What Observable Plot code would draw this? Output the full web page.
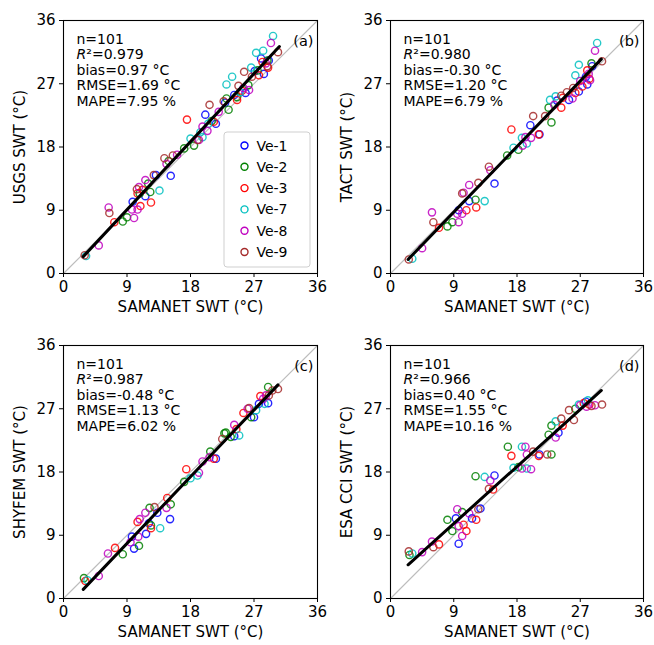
<!DOCTYPE html>
<html><head><meta charset="utf-8">
<script src="https://cdn.jsdelivr.net/npm/d3@7"></script>
<script src="https://cdn.jsdelivr.net/npm/@observablehq/plot@0.6"></script>
<style>
body{margin:0;background:#fff;}
#wrap{position:relative;width:654px;height:645px;font-family:"DejaVu Sans",sans-serif;}
#wrap svg{position:absolute;}
</style></head><body><div id="wrap"></div>
<script>
const stations = ["Ve-1","Ve-2","Ve-3","Ve-7","Ve-8","Ve-9"];
const stationColors = ["#0000ff","#008000","#ff0000","#00bfbf","#bf00bf","#a52a2a"];
const axisTicks = [0, 9, 18, 27, 36];
const axisDomain = [0, 36];
const xLabel = "SAMANET SWT (°C)";
const yLabels = ["USGS SWT (°C)", "TACT SWT (°C)", "SHYFEM SWT (°C)", "ESA CCI SWT (°C)"];
const panelTags = ["(a)", "(b)", "(c)", "(d)"];
const nObs = [101, 101, 101, 101];
const r2 = ["0.979", "0.980", "0.987", "0.966"];
const bias = ["0.97", "-0.30", "-0.48", "0.40"];
const rmse = ["1.69", "1.20", "1.13", "1.55"];
const mape = ["7.95", "6.79", "6.02", "10.16"];

// regression line end points
const fitA = [[2.8, 2.4], [30.6, 32.3]];
const fitB = [[2.5, 2.0], [30.0, 30.5]];
const fitC = [[2.8, 1.3], [30.4, 30.4]];
const fitD = [[2.5, 4.8], [30.0, 29.6]];

// [SAMANET, product, station]
const ptsA = [
 [20.1,22.6,"Ve-1"],[21.6,21.3,"Ve-1"],[11.6,11.0,"Ve-1"],[13.1,14.0,"Ve-1"],[15.2,13.9,"Ve-1"],[24.2,25.4,"Ve-1"],[25.8,25.7,"Ve-1"],[28.0,30.6,"Ve-1"],[28.4,28.4,"Ve-1"],[29.1,30.3,"Ve-1"],[9.8,10.2,"Ve-1"],[22.9,24.3,"Ve-1"],[27.1,28.8,"Ve-1"],
 [8.4,7.4,"Ve-2"],[9.0,8.0,"Ve-2"],[12.3,11.6,"Ve-2"],[12.0,12.8,"Ve-2"],[14.9,16.0,"Ve-2"],[17.1,17.8,"Ve-2"],[18.5,18.2,"Ve-2"],[23.1,24.9,"Ve-2"],[23.4,23.3,"Ve-2"],[24.6,25.1,"Ve-2"],[26.2,26.8,"Ve-2"],[28.9,30.3,"Ve-2"],[10.8,11.4,"Ve-2"],[21.0,21.7,"Ve-2"],[27.5,28.9,"Ve-2"],
 [7.2,7.3,"Ve-3"],[10.9,9.6,"Ve-3"],[12.4,10.1,"Ve-3"],[10.5,11.4,"Ve-3"],[17.5,21.9,"Ve-3"],[21.3,21.6,"Ve-3"],[24.6,24.7,"Ve-3"],[27.7,28.2,"Ve-3"],[28.2,30.1,"Ve-3"],[11.2,11.9,"Ve-3"],[25.3,26.0,"Ve-3"],[29.0,29.3,"Ve-3"],
 [3.2,2.5,"Ve-7"],[13.6,11.8,"Ve-7"],[18.0,19.2,"Ve-7"],[19.4,20.1,"Ve-7"],[19.7,19.4,"Ve-7"],[23.1,26.9,"Ve-7"],[23.9,28.0,"Ve-7"],[26.6,29.3,"Ve-7"],[27.3,31.4,"Ve-7"],[28.3,31.7,"Ve-7"],[29.7,33.8,"Ve-7"],[20.5,21.3,"Ve-7"],[25.0,25.8,"Ve-7"],
 [5.0,4.0,"Ve-8"],[6.4,9.4,"Ve-8"],[10.0,7.9,"Ve-8"],[9.7,9.1,"Ve-8"],[10.5,9.1,"Ve-8"],[10.7,12.3,"Ve-8"],[11.6,13.3,"Ve-8"],[14.6,15.6,"Ve-8"],[19.2,19.0,"Ve-8"],[19.7,20.9,"Ve-8"],[20.4,20.3,"Ve-8"],[25.5,26.4,"Ve-8"],[26.3,26.1,"Ve-8"],[28.7,29.9,"Ve-8"],[29.4,32.8,"Ve-8"],[16.1,16.9,"Ve-8"],[22.0,23.0,"Ve-8"],
 [3.0,2.6,"Ve-9"],[6.5,8.6,"Ve-9"],[10.4,12.0,"Ve-9"],[12.8,14.0,"Ve-9"],[14.3,16.4,"Ve-9"],[19.0,19.0,"Ve-9"],[20.7,24.0,"Ve-9"],[22.7,24.5,"Ve-9"],[24.8,26.7,"Ve-9"],[25.6,28.7,"Ve-9"],[28.9,29.5,"Ve-9"],[30.4,31.5,"Ve-9"],[15.5,16.8,"Ve-9"],[26.7,28.0,"Ve-9"]
];
const ptsB = [
 [9.7,9.0,"Ve-1"],[11.2,10.3,"Ve-1"],[14.8,12.8,"Ve-1"],[19.9,21.1,"Ve-1"],[21.2,19.8,"Ve-1"],[23.7,24.6,"Ve-1"],[25.4,24.7,"Ve-1"],[26.8,25.9,"Ve-1"],[28.0,26.9,"Ve-1"],[27.8,28.0,"Ve-1"],[28.7,29.5,"Ve-1"],
 [8.1,6.7,"Ve-2"],[8.8,7.3,"Ve-2"],[12.1,10.5,"Ve-2"],[16.6,16.8,"Ve-2"],[18.2,17.6,"Ve-2"],[22.5,23.6,"Ve-2"],[22.9,21.5,"Ve-2"],[28.6,29.9,"Ve-2"],
 [6.9,6.5,"Ve-3"],[10.8,9.0,"Ve-3"],[12.2,9.4,"Ve-3"],[17.2,20.5,"Ve-3"],[21.1,19.8,"Ve-3"],[24.3,23.6,"Ve-3"],[24.5,25.0,"Ve-3"],[26.3,25.7,"Ve-3"],[27.3,26.6,"Ve-3"],[28.0,28.9,"Ve-3"],[28.3,27.7,"Ve-3"],
 [3.1,2.1,"Ve-7"],[13.4,10.3,"Ve-7"],[17.5,17.9,"Ve-7"],[18.7,19.3,"Ve-7"],[19.4,18.5,"Ve-7"],[22.7,24.7,"Ve-7"],[23.5,25.2,"Ve-7"],[26.3,28.2,"Ve-7"],[26.8,29.7,"Ve-7"],[29.4,32.8,"Ve-7"],
 [4.5,3.6,"Ve-8"],[5.9,8.7,"Ve-8"],[9.7,7.3,"Ve-8"],[9.5,8.5,"Ve-8"],[10.2,8.5,"Ve-8"],[10.4,11.5,"Ve-8"],[11.2,12.6,"Ve-8"],[14.2,14.7,"Ve-8"],[18.8,18.2,"Ve-8"],[19.2,19.4,"Ve-8"],[20.0,19.3,"Ve-8"],[23.3,24.0,"Ve-8"],[25.9,24.9,"Ve-8"],[27.0,27.4,"Ve-8"],[28.2,28.4,"Ve-8"],[28.4,27.5,"Ve-8"],[29.1,31.7,"Ve-8"],
 [2.6,2.0,"Ve-9"],[6.1,7.3,"Ve-9"],[10.2,11.4,"Ve-9"],[12.5,12.9,"Ve-9"],[14.0,15.2,"Ve-9"],[20.3,22.4,"Ve-9"],[22.0,22.4,"Ve-9"],[24.3,25.3,"Ve-9"],[25.1,25.8,"Ve-9"],[26.0,26.4,"Ve-9"],[30.1,30.2,"Ve-9"]
];
const ptsC = [
 [9.7,8.8,"Ve-1"],[10.0,7.1,"Ve-1"],[11.7,9.2,"Ve-1"],[12.1,10.7,"Ve-1"],[13.3,12.2,"Ve-1"],[15.1,11.3,"Ve-1"],[21.6,19.9,"Ve-1"],[24.2,23.1,"Ve-1"],[27.0,25.8,"Ve-1"],[27.7,27.7,"Ve-1"],[29.0,27.8,"Ve-1"],
 [2.9,2.9,"Ve-2"],[8.4,6.3,"Ve-2"],[10.7,7.5,"Ve-2"],[12.2,12.9,"Ve-2"],[12.4,10.4,"Ve-2"],[15.2,13.4,"Ve-2"],[17.1,16.6,"Ve-2"],[20.8,20.9,"Ve-2"],[22.8,23.5,"Ve-2"],[23.0,23.6,"Ve-2"],[23.7,23.0,"Ve-2"],[26.6,25.8,"Ve-2"],[29.0,30.1,"Ve-2"],
 [3.1,2.5,"Ve-3"],[7.3,7.2,"Ve-3"],[10.5,10.9,"Ve-3"],[12.4,10.0,"Ve-3"],[14.7,14.3,"Ve-3"],[17.4,18.4,"Ve-3"],[21.3,19.9,"Ve-3"],[24.5,24.1,"Ve-3"],[25.5,26.4,"Ve-3"],[27.9,28.8,"Ve-3"],
 [3.4,2.6,"Ve-7"],[13.7,10.0,"Ve-7"],[18.0,17.1,"Ve-7"],[19.0,17.5,"Ve-7"],[24.9,23.2,"Ve-7"],[27.3,26.8,"Ve-7"],[28.5,27.7,"Ve-7"],
 [5.0,3.2,"Ve-8"],[6.3,6.4,"Ve-8"],[9.5,8.0,"Ve-8"],[10.6,8.8,"Ve-8"],[10.8,11.3,"Ve-8"],[11.6,12.2,"Ve-8"],[14.6,12.9,"Ve-8"],[19.2,17.9,"Ve-8"],[19.7,19.5,"Ve-8"],[20.7,20.1,"Ve-8"],[24.2,24.7,"Ve-8"],[26.1,27.0,"Ve-8"],[28.7,28.9,"Ve-8"],[28.3,28.4,"Ve-8"],
 [12.9,13.0,"Ve-9"],[22.5,22.7,"Ve-9"],[26.3,27.1,"Ve-9"],[29.1,28.9,"Ve-9"],[29.6,29.6,"Ve-9"],[30.4,29.8,"Ve-9"]
];
const ptsD = [
 [9.7,7.8,"Ve-1"],[9.3,11.4,"Ve-1"],[11.6,11.4,"Ve-1"],[12.8,12.8,"Ve-1"],[14.8,17.5,"Ve-1"],[21.2,20.5,"Ve-1"],[23.9,23.6,"Ve-1"],[27.8,28.0,"Ve-1"],
 [2.7,6.2,"Ve-2"],[8.1,11.2,"Ve-2"],[8.8,9.6,"Ve-2"],[10.2,12.3,"Ve-2"],[12.1,17.4,"Ve-2"],[16.7,21.6,"Ve-2"],[18.2,18.7,"Ve-2"],[22.9,20.5,"Ve-2"],[22.5,23.3,"Ve-2"],[22.9,24.6,"Ve-2"],[26.3,27.0,"Ve-2"],
 [6.9,7.7,"Ve-3"],[10.8,9.6,"Ve-3"],[10.4,10.5,"Ve-3"],[12.2,11.2,"Ve-3"],[14.6,15.5,"Ve-3"],[17.2,20.3,"Ve-3"],[21.1,20.3,"Ve-3"],[24.5,24.6,"Ve-3"],[27.5,27.8,"Ve-3"],[28.3,27.6,"Ve-3"],
 [3.1,6.4,"Ve-7"],[13.4,17.3,"Ve-7"],[17.5,18.6,"Ve-7"],[18.7,21.6,"Ve-7"],[19.4,18.5,"Ve-7"],[23.5,25.2,"Ve-7"],[26.8,27.6,"Ve-7"],[28.1,28.2,"Ve-7"],
 [4.5,6.6,"Ve-8"],[5.9,8.1,"Ve-8"],[9.5,12.7,"Ve-8"],[9.7,10.3,"Ve-8"],[10.2,8.9,"Ve-8"],[11.2,12.1,"Ve-8"],[14.2,16.8,"Ve-8"],[19.2,21.6,"Ve-8"],[18.7,18.5,"Ve-8"],[20.0,18.4,"Ve-8"],[19.4,20.5,"Ve-8"],[23.5,22.9,"Ve-8"],[27.0,27.5,"Ve-8"],[29.1,27.5,"Ve-8"],[27.9,27.3,"Ve-8"],
 [2.6,6.7,"Ve-9"],[6.1,7.3,"Ve-9"],[12.5,12.7,"Ve-9"],[14.0,15.6,"Ve-9"],[20.3,20.9,"Ve-9"],[22.3,20.5,"Ve-9"],[24.3,25.6,"Ve-9"],[25.4,26.8,"Ve-9"],[26.1,25.4,"Ve-9"],[28.6,27.4,"Ve-9"],[30.1,27.6,"Ve-9"]
];

const panels = [
  {pts: ptsA, fit: fitA, left: 0, top: 0, h: 322, mr: 10, mb: 49},
  {pts: ptsB, fit: fitB, left: 327, top: 0, h: 322, mr: 11, mb: 49},
  {pts: ptsC, fit: fitC, left: 0, top: 325, h: 320, mr: 10, mb: 47},
  {pts: ptsD, fit: fitD, left: 327, top: 325, h: 320, mr: 11, mb: 47}
];

const wrap = document.getElementById("wrap");
const lineH = 15.4, top0 = 13.6, left0 = 13;

panels.forEach((pn, i) => {
  const statLines = [
    "n=" + nObs[i],
    null,
    "bias=" + bias[i] + " °C",
    "RMSE=" + rmse[i] + " °C",
    "MAPE=" + mape[i] + " %"
  ];
  const statMarks = [];
  statLines.forEach((t, j) => {
    if (t === null) {
      statMarks.push(Plot.text(["R"], {text: d => d, frameAnchor: "top-left", dx: left0, dy: top0 + j * lineH, fontSize: 14, fontStyle: "italic"}));
      statMarks.push(Plot.text(["²=" + r2[i]], {text: d => d, frameAnchor: "top-left", dx: left0 + 9.8, dy: top0 + j * lineH, fontSize: 14}));
    } else {
      statMarks.push(Plot.text([t], {text: d => d, frameAnchor: "top-left", dx: left0, dy: top0 + j * lineH, fontSize: 14}));
    }
  });
  const svg = Plot.plot({
    width: 327, height: pn.h,
    marginLeft: 63, marginRight: pn.mr, marginTop: 20, marginBottom: pn.mb,
    style: {fontFamily: "DejaVu Sans", fontSize: "14px", color: "black", background: "white"},
    x: {domain: axisDomain},
    y: {domain: axisDomain},
    color: {domain: stations, range: stationColors},
    marks: [
      Plot.line(axisDomain, {x: d => d, y: d => d, stroke: "#bdbdbd", strokeWidth: 1.2}),
      Plot.dot(pn.pts, {x: d => d[0], y: d => d[1], stroke: d => d[2], r: 3.6, strokeWidth: 1.4, fill: "none", strokeOpacity: 0.85}),
      Plot.line(pn.fit, {x: d => d[0], y: d => d[1], stroke: "black", strokeWidth: 3}),
      Plot.frame({stroke: "black", strokeWidth: 1.1}),
      Plot.axisX({ticks: axisTicks, tickSize: 4, tickPadding: 4, fontSize: 15, label: null}),
      Plot.axisY({ticks: axisTicks, tickSize: 4, tickPadding: 4, fontSize: 15, label: null}),
      Plot.text([xLabel], {text: d => d, frameAnchor: "bottom", dy: 34, fontSize: 15, lineAnchor: "middle"}),
      Plot.text([yLabels[i]], {text: d => d, frameAnchor: "left", dx: -43, rotate: -90, fontSize: 15, lineAnchor: "middle", textAnchor: "middle"}),
      Plot.text([panelTags[i]], {text: d => d, frameAnchor: "top-right", dx: -4, dy: 15, fontSize: 14.5}),
      ...statMarks
    ]
  });
  svg.style.left = pn.left + "px";
  svg.style.top = pn.top + "px";
  wrap.appendChild(svg);

  if (i === 0) {
    const g = d3.select(svg).append("g").attr("font-family", "DejaVu Sans").attr("font-size", 14);
    g.append("rect").attr("x", 224).attr("y", 132).attr("width", 86).attr("height", 135)
      .attr("rx", 3).attr("fill", "white").attr("fill-opacity", 0.85).attr("stroke", "#cfcfcf");
    stations.forEach((s, k) => {
      const cy = 145.5 + k * 21.3;
      g.append("circle").attr("cx", 244.5).attr("cy", cy).attr("r", 3.5)
        .attr("fill", "none").attr("stroke", stationColors[k]).attr("stroke-width", 1.4);
      g.append("text").attr("x", 272).attr("y", cy + 5).attr("fill", "black").text(s);
    });
  }
});
</script></body></html>
